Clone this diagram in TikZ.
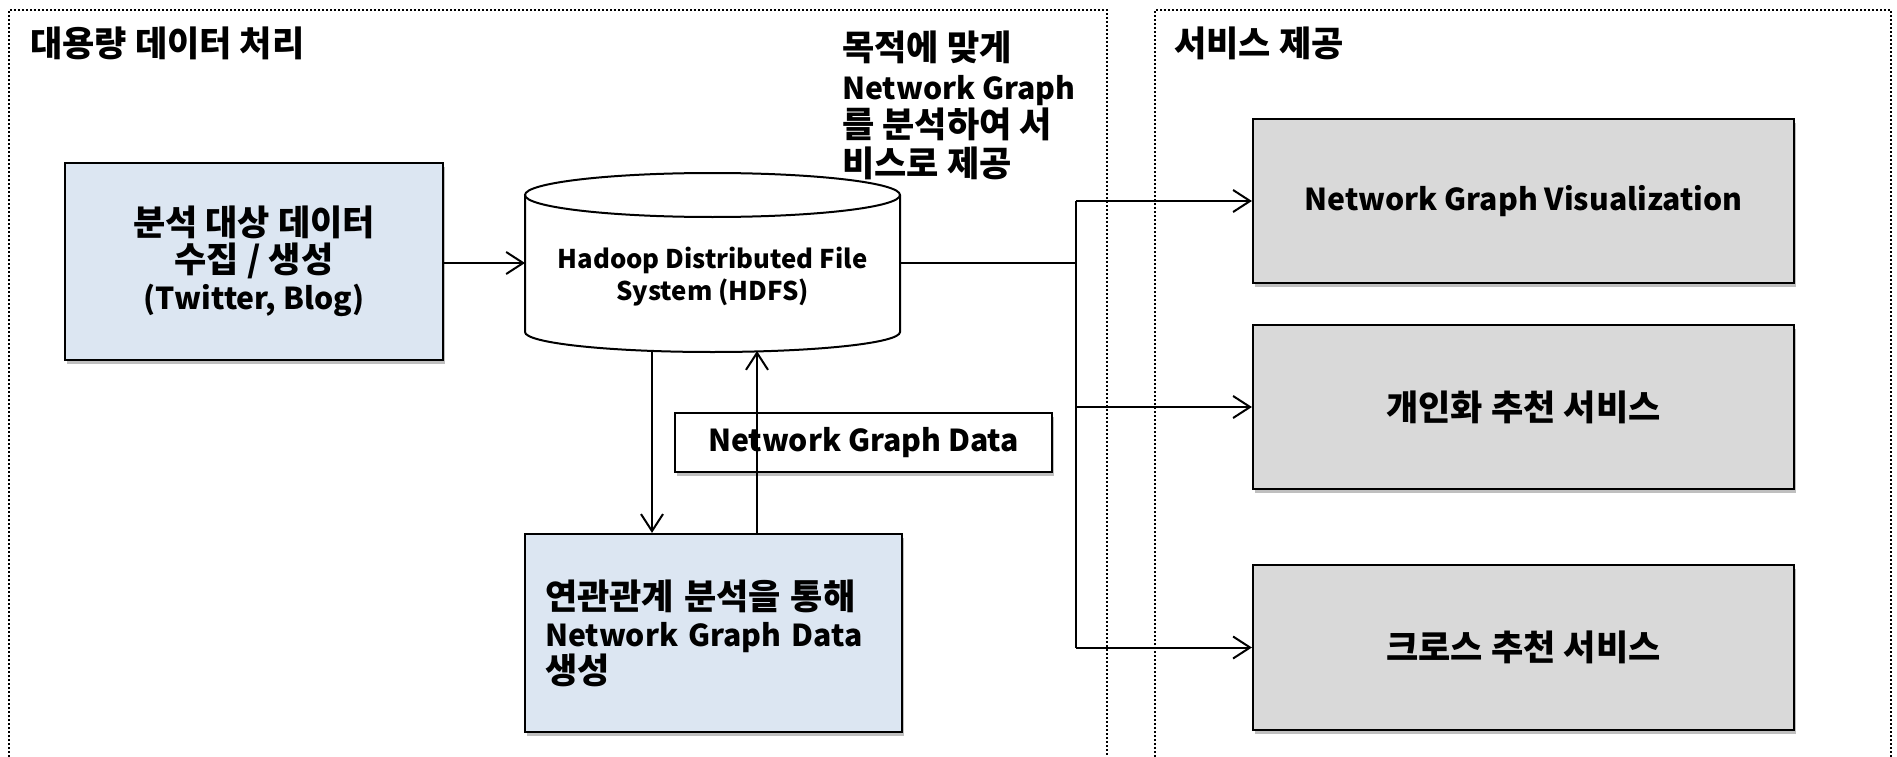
\documentclass[tikz,border=0pt]{standalone}
\usepackage{fontspec}
\setmainfont{Noto Sans CJK KR}[Scale=0.99]
\newfontfamily\kr{Noto Sans CJK KR}[Scale=1.15]
\usetikzlibrary{arrows.meta,shadows}
\newcommand\K[1]{{\kr #1}}
\definecolor{boxblue}{HTML}{DCE6F2}
\definecolor{boxgray}{HTML}{D9D9D9}
\begin{document}
\begin{tikzpicture}[x=1pt,y=-1pt,
  frame/.style={line width=1.6pt, dash pattern=on 2pt off 2pt},
  arr/.style={line width=2pt, -{Straight Barb[length=17pt,width=22pt]}},
  conn/.style={line width=2pt},
  shbox/.style={draw, line width=2.2pt, inner sep=0pt,
    drop shadow={shadow xshift=2pt, shadow yshift=-4pt, fill=black, opacity=0.25}},
  txt/.style={font=\bfseries\fontsize{30.5}{37}\selectfont},
  small/.style={font=\bfseries\fontsize{26}{32}\selectfont},
]
\useasboundingbox (0,0) rectangle (1897,757);
% frames
\draw[frame] (9,757) -- (9,10) -- (1107,10) -- (1107,757);
\draw[frame] (1155,757) -- (1155,10) -- (1891,10) -- (1891,757);
% titles
\node[txt, anchor=west, inner sep=0pt] (tL) at (30,43) {\K{대용량 데이터 처리}};
\node[txt, anchor=west, inner sep=0pt] (tR) at (1174,43) {\K{서비스 제공}};
\node[font=\bfseries\fontsize{30.5}{38.5}\selectfont, anchor=north west, inner sep=0pt, align=left] (note) at (842,31)
  {\K{목적에 맞게}\\Network Graph\\\K{를 분석하여 서}\\\K{비스로 제공}};
% box A
\node[shbox, fill=boxblue, minimum width=378pt, minimum height=197pt, txt, align=center] (A) at (254,261.5)
  {\K{분석 대상 데이터}\\\K{수집 / 생성}\\(Twitter, Blog)};
% cylinder
\draw[line width=2pt, fill=white] (525,195) -- (525,332)
  arc[start angle=180, end angle=360, x radius=187.5pt, y radius=20pt] -- (900,195);
\draw[line width=2pt] (712.5,195) ellipse [x radius=187.5pt, y radius=22pt];
\node[small, align=center, inner sep=0pt] (hdfs) at (712.5,277) {Hadoop Distributed File\\System (HDFS)};
\coordinate (hdfsL) at (525,263);
\coordinate (hdfsR) at (900,263);
\coordinate (hdfsBL) at (652,351);
\coordinate (hdfsBR) at (757,351);
% box B
\node[shbox, fill=boxblue, minimum width=377pt, minimum height=198pt, txt, align=left, text width=337pt] (B) at (713.5,633)
  {\K{연관관계 분석을 통해}\\Network Graph Data\\\K{생성}};
% label
\node[shbox, fill=white, minimum width=377pt, minimum height=59pt, txt] (ngd) at (863.5,442.5) {Network Graph Data};
% right boxes
\node[shbox, fill=boxgray, minimum width=541pt, minimum height=164pt, txt] (V) at (1523.5,201) {Network Graph Visualization};
\node[shbox, fill=boxgray, minimum width=541pt, minimum height=164pt, txt] (P) at (1523.5,407) {\K{개인화 추천 서비스}};
\node[shbox, fill=boxgray, minimum width=541pt, minimum height=165pt, txt] (X) at (1523.5,647.5) {\K{크로스 추천 서비스}};
% connectors
\draw[arr] (A.east |- hdfsL) -- (hdfsL);
\draw[arr] (hdfsBL) -- (hdfsBL |- B.north);
\draw[arr] (hdfsBR |- B.north) -- (hdfsBR);
\coordinate (J) at (1076,263);
\draw[conn] (hdfsR) -- (J);
\draw[conn] (J |- V.west) -- (J |- X.west);
\draw[arr] (J |- V.west) -- (V.west);
\draw[arr] (J |- P.west) -- (P.west);
\draw[arr] (J |- X.west) -- (X.west);
\end{tikzpicture}
\end{document}
